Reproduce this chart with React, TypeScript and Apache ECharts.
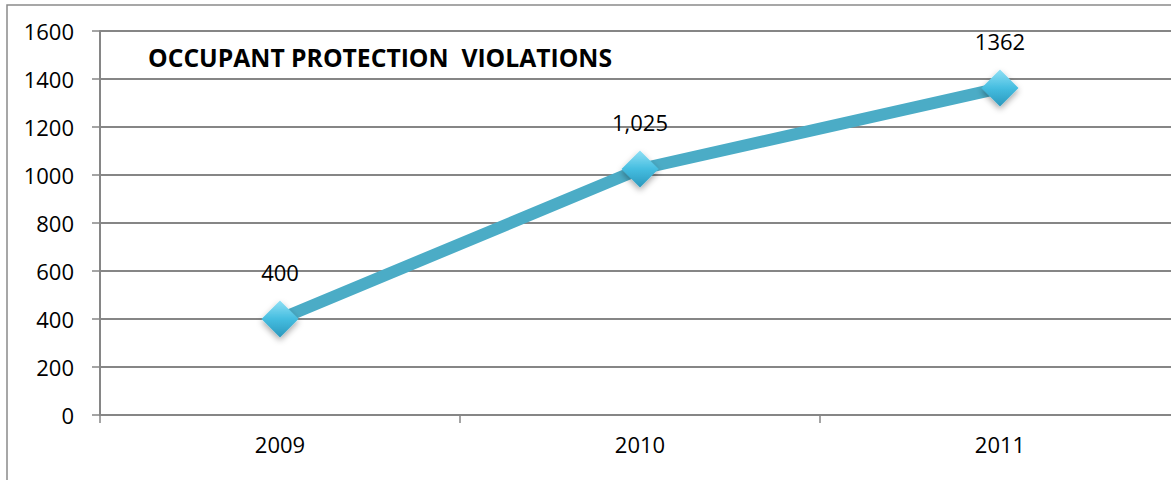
import React, { useEffect, useRef } from "react";
import * as echarts from "echarts";

const years = ["2009", "2010", "2011"];
const violations = [400, 1025, 1362];
const labelTexts = ["400", "1,025", "1362"];
const chartTitle = "OCCUPANT PROTECTION  VIOLATIONS";

export default function App() {
  const ref = useRef<HTMLDivElement>(null);
  useEffect(() => {
    if (!ref.current) return;
    document.body.style.overflow = "hidden";
    const chart = echarts.init(ref.current, undefined, { renderer: "svg" });
    const font = "'Open Sans', sans-serif";
    chart.setOption({
      animation: false,
      backgroundColor: "#ffffff",
      textStyle: { fontFamily: font },
      graphic: [
        {
          type: "polyline",
          shape: { points: [[7, 480], [7, 5], [1180, 5]] },
          style: { stroke: "#8a8a8a", lineWidth: 1.5, fill: "none" },
          z: 0,
        },
        {
          type: "text",
          left: 148,
          top: 45,
          style: {
            text: chartTitle,
            font: `bold 24.7px ${font}`,
            fill: "#000000",
          },
        },
      ],
      grid: { left: 100, right: 0, top: 31, bottom: 65 },
      xAxis: {
        type: "category",
        data: years,
        boundaryGap: true,
        axisLine: { lineStyle: { color: "#868686", width: 2 } },
        axisTick: { show: true, length: 8, lineStyle: { color: "#868686", width: 1.5 } },
        axisLabel: { color: "#000", fontSize: 22, margin: 18, fontFamily: font },
      },
      yAxis: {
        type: "value",
        min: 0,
        max: 1600,
        interval: 200,
        axisLine: { show: true, lineStyle: { color: "#868686", width: 2 } },
        axisTick: { show: true, length: 8, lineStyle: { color: "#868686", width: 1.5 } },
        axisLabel: {
          color: "#000",
          fontSize: 22,
          margin: 26,
          fontFamily: font,
          formatter: (v: number) => String(v),
        },
        splitLine: { lineStyle: { color: "#868686", width: 2 } },
      },
      series: [
        {
          type: "line",
          data: violations,
          lineStyle: { color: "#4BACC6", width: 12 },
          symbol: "diamond",
          symbolSize: 37,
          itemStyle: {
            color: new echarts.graphic.LinearGradient(0, 0, 0, 1, [
              { offset: 0, color: "#8fe0f5" },
              { offset: 0.5, color: "#45bde0" },
              { offset: 1, color: "#2a98bd" },
            ]),
            borderWidth: 0,
            shadowColor: "rgba(0,0,0,0.35)",
            shadowBlur: 6,
            shadowOffsetY: 3,
          },
          label: {
            show: true,
            position: "top",
            distance: 18,
            fontSize: 22,
            color: "#000",
            fontFamily: font,
            formatter: (p: any) => labelTexts[p.dataIndex],
          },
          z: 3,
        },
      ],
    });
    return () => chart.dispose();
  }, []);
  return (
    <div
      ref={ref}
      style={{ position: "fixed", left: 0, top: 0, width: 1180, height: 480 }}
    />
  );
}
